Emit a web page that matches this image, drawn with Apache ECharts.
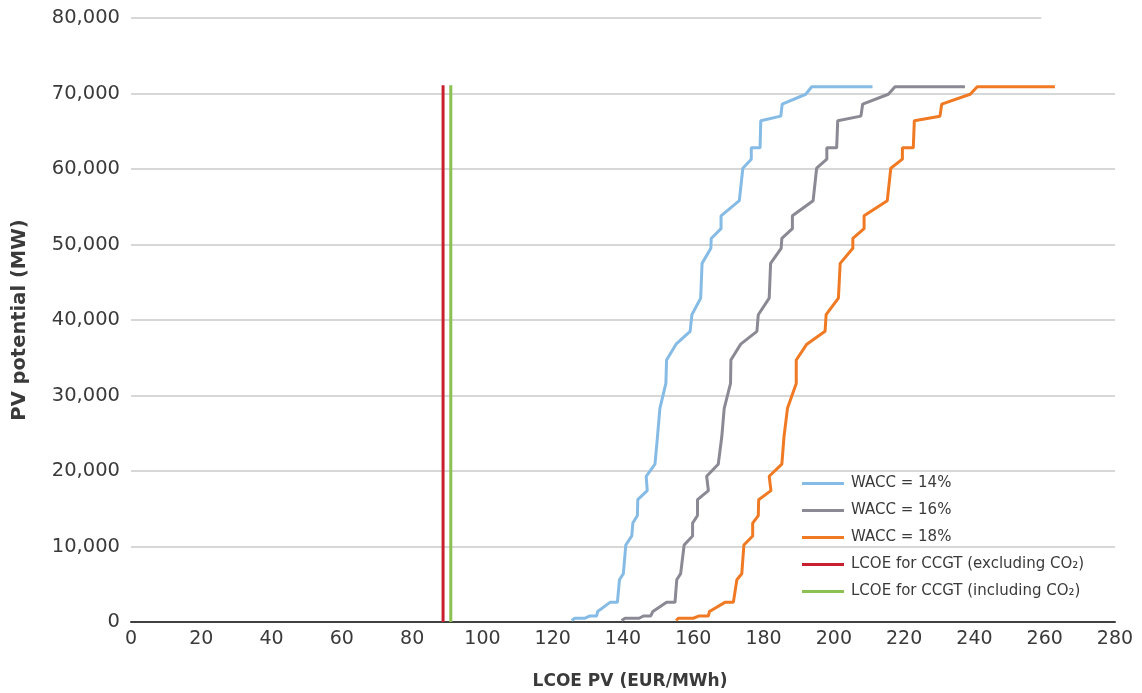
<!DOCTYPE html>
<html>
<head>
<meta charset="utf-8">
<script src="https://cdn.jsdelivr.net/npm/echarts@6/dist/echarts.min.js"></script>
<style>
html,body{margin:0;padding:0;background:#fff;}
#chart{width:1142px;height:693px;}
</style>
</head>
<body>
<div id="chart"></div>
<script>
// Cumulative PV potential (MW), shared by the three WACC curves
var potentialMW = [200, 500, 500, 800, 800, 1400, 2600, 2600, 5600, 6400, 10200, 11400, 13100, 14100, 16200, 17400, 19300, 20900, 24500, 28300, 31600, 34700, 36800, 38500, 40700, 42900, 47500, 49500, 50800, 52100, 53800, 55800, 60100, 61300, 62800, 62800, 66400, 67000, 68600, 69900, 70900, 70900];
// LCOE PV (EUR/MWh) for each WACC
var lcoeWacc14 = [125.4, 126.3, 129.2, 130.6, 132.5, 132.8, 136.3, 138.4, 139.0, 140.1, 140.8, 142.5, 142.8, 144.1, 144.2, 146.9, 146.6, 149.1, 149.8, 150.5, 152.2, 152.4, 155.1, 159.1, 159.6, 162.1, 162.5, 165.0, 165.1, 167.9, 167.9, 173.1, 174.1, 176.5, 176.5, 179.0, 179.2, 184.9, 185.3, 192.0, 193.7, 211.0];
var lcoeWacc16 = [139.6, 140.6, 144.6, 145.8, 147.9, 148.5, 152.4, 154.8, 155.3, 156.4, 157.4, 159.8, 159.8, 161.2, 161.2, 164.3, 163.8, 167.1, 168.1, 168.8, 170.6, 170.7, 173.5, 178.1, 178.5, 181.6, 182.0, 185.0, 185.2, 188.2, 188.2, 194.1, 195.1, 198.0, 198.0, 200.8, 201.1, 207.7, 208.2, 215.5, 217.4, 237.3];
var lcoeWacc18 = [155.1, 155.8, 160.0, 161.7, 164.3, 164.6, 169.0, 171.4, 172.4, 173.8, 174.4, 176.9, 176.9, 178.5, 178.6, 182.1, 181.6, 185.2, 185.8, 186.8, 189.3, 189.3, 192.3, 197.5, 197.8, 201.3, 201.8, 205.4, 205.4, 208.6, 208.6, 215.2, 216.2, 219.5, 219.5, 222.6, 222.9, 230.2, 230.7, 238.8, 240.8, 262.9];
// CCGT LCOE reference lines (EUR/MWh) and their height (MW)
var ccgtExclCO2 = 88.8;
var ccgtInclCO2 = 91.0;
var ccgtLineTop = 71100;
// Series names
var seriesNames = ['WACC = 14%', 'WACC = 16%', 'WACC = 18%', 'LCOE for CCGT (excluding CO₂)', 'LCOE for CCGT (including CO₂)'];
// Top gridline end (EUR/MWh)
var topGridEnd = 259;

function pairs(xs, ys) { return xs.map(function (x, i) { return [x, ys[i]]; }); }

var colors = ['#85BBE4', '#8B8994', '#F07A24', '#C8202F', '#8CC152'];
var font = 'DejaVu Sans';
var textColor = '#3a3a3a';
var gridColor = '#CACACA';

var chart = echarts.init(document.getElementById('chart'));
var lineSeries = function (name, data, color) {
  return {
    name: name, type: 'line', data: data, symbol: 'none', smooth: false,
    lineStyle: { color: color, width: 3 }, itemStyle: { color: color }, z: 3,
    emphasis: { disabled: true }
  };
};
var s14 = lineSeries(seriesNames[0], pairs(lcoeWacc14, potentialMW), colors[0]);
s14.markLine = {
  silent: true, symbol: 'none', label: { show: false },
  lineStyle: { color: gridColor, width: 1.5, type: 'solid' },
  data: [[{ coord: [0, 80000] }, { coord: [topGridEnd, 80000] }]]
};

chart.setOption({
  animation: false,
  textStyle: { fontFamily: font },
  grid: { left: 131, right: 27, top: 18, bottom: 71, containLabel: false, outerBoundsMode: 'none' },
  legend: {
    orient: 'vertical', left: 797, top: 471,
    itemWidth: 42, itemHeight: 3, itemGap: 12,
    icon: 'rect',
    textStyle: { fontFamily: font, fontSize: 15, color: textColor, padding: [0, 0, 0, 2] },
    data: seriesNames
  },
  xAxis: {
    type: 'value', min: 0, max: 280, interval: 20,
    name: 'LCOE PV (EUR/MWh)', nameLocation: 'middle', nameGap: 51,
    nameTextStyle: { fontFamily: font, fontWeight: 'bold', fontSize: 17, color: textColor, padding: [0, 0, 0, 14] },
    axisLine: { show: true, onZero: false, lineStyle: { color: '#404040', width: 2 } },
    axisTick: { show: false },
    splitLine: { show: false },
    axisLabel: { fontFamily: font, fontSize: 19, color: textColor, margin: 8 }
  },
  yAxis: {
    type: 'value', min: 0, max: 80000, interval: 10000,
    name: 'PV potential (MW)', nameLocation: 'middle', nameGap: 101,
    nameTextStyle: { fontFamily: font, fontWeight: 'bold', fontSize: 19.5, color: textColor },
    axisLine: { show: false }, axisTick: { show: false },
    splitLine: { show: true, showMinLine: false, showMaxLine: false, lineStyle: { color: gridColor, width: 1.5 } },
    axisLabel: {
      fontFamily: font, fontSize: 19.5, color: textColor, margin: 11,
      formatter: function (v) { return v.toLocaleString('en-US'); }
    }
  },
  series: [
    s14,
    lineSeries(seriesNames[1], pairs(lcoeWacc16, potentialMW), colors[1]),
    lineSeries(seriesNames[2], pairs(lcoeWacc18, potentialMW), colors[2]),
    lineSeries(seriesNames[3], [[ccgtExclCO2, 0], [ccgtExclCO2, ccgtLineTop]], colors[3]),
    lineSeries(seriesNames[4], [[ccgtInclCO2, 0], [ccgtInclCO2, ccgtLineTop]], colors[4])
  ]
});
</script>
</body>
</html>
